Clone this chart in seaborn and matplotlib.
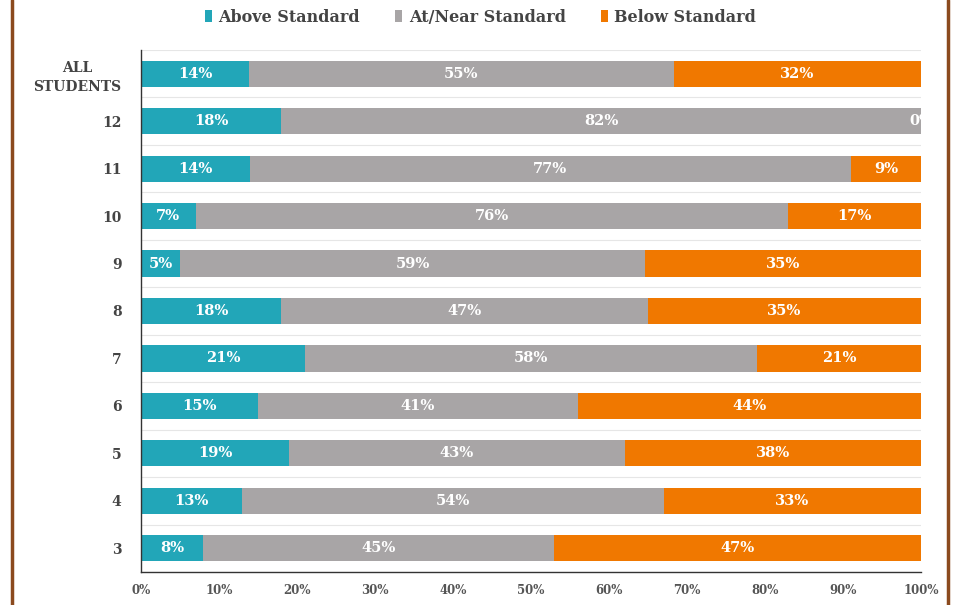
import matplotlib
matplotlib.use("Agg")
import matplotlib.pyplot as plt
import pandas as pd
import numpy as np
import seaborn as sns
from matplotlib.lines import Line2D
from matplotlib.patches import Patch

sns.set_theme(style="white")
plt.rcParams['font.family'] = ['DejaVu Serif']

# data (percent of students)
grades = ['ALL\nSTUDENTS', '12', '11', '10', '9', '8', '7', '6', '5', '4', '3']
above = [14, 18, 14, 7, 5, 18, 21, 15, 19, 13, 8]
near = [55, 82, 77, 76, 59, 47, 58, 41, 43, 54, 45]
below = [32, 0, 9, 17, 35, 35, 21, 44, 38, 33, 47]
series = ['Above Standard', 'At/Near Standard', 'Below Standard']
colors = ['#22a6b8', '#a8a5a6', '#f07800']

data = pd.DataFrame({'grade': grades, 'above': above, 'near': near, 'below': below})
# 100% stacked: rescale rounded labels so each bar fills the axis
tot = data[['above', 'near', 'below']].sum(axis=1)
data['s_above'] = data.above / tot * 100
data['cum_near'] = (data.above + data.near) / tot * 100
data['cum_below'] = 100.0

fig = plt.figure(figsize=(9.61, 6.05), dpi=100)
ax = fig.add_axes([141/961, 1-572/605, 780/961, 522/605])

# stacked bars: draw the running totals back to front
for col, c in zip(['cum_below', 'cum_near', 's_above'], colors[::-1]):
    sns.barplot(data=data, x=col, y='grade', order=grades, color=c,
                width=0.55, orient='h', ax=ax, saturation=1, edgecolor='none')

txt = dict(color='white', fontweight='bold', fontsize=10.5, ha='center',
           va='center', clip_on=True)
for i, row in data.iterrows():
    ax.text(row.s_above / 2, i, f"{row.above}%", **txt)
    ax.text((row.s_above + row.cum_near) / 2, i, f"{row.near}%", **txt)
    ax.text((row.cum_near + 100) / 2, i, f"{row.below}%", **txt)

ax.set_xlim(0, 100)
ax.set_ylim(len(grades) - 0.5, -0.5)
ax.set_xlabel('')
ax.set_ylabel('')
ax.set_xticks(np.arange(0, 101, 10))
ax.set_xticklabels([f"{v}%" for v in range(0, 101, 10)], fontsize=8.5,
                   fontweight='bold', color='#555555')
ax.set_yticks(range(len(grades)))
ax.set_yticklabels(grades, fontsize=10, fontweight='bold', color='#444444',
                   linespacing=1.4, multialignment='center')
ax.set_yticks(np.arange(-0.5, len(grades), 1), minor=True)
ax.tick_params(axis='y', which='major', length=0, pad=14)
ax.tick_params(axis='y', which='minor', length=8, direction='inout',
               color='#333333', width=1)
ax.tick_params(axis='x', length=10, direction='inout', color='#333333',
               width=1, pad=4)
ax.grid(axis='y', which='minor', color='#e6e6e6', linewidth=0.8)
ax.set_axisbelow(True)
for s in ['top', 'right']:
    ax.spines[s].set_visible(False)
for s in ['left', 'bottom']:
    ax.spines[s].set_color('#333333')
    ax.spines[s].set_linewidth(1)

handles = [Patch(facecolor=c, edgecolor='none') for c in colors]
fig.legend(handles, series, loc='center', bbox_to_anchor=(0.5, 1-17/605),
           ncol=3, frameon=False, handlelength=0.45, handleheight=0.8,
           handletextpad=0.4, columnspacing=2.2,
           prop={'weight': 'bold', 'size': 11.5})
for t in fig.legends[0].get_texts():
    t.set_color('#444444')

# brown frame at the sides
for xp in [12/961, 948/961]:
    fig.add_artist(Line2D([xp, xp], [0, 1], transform=fig.transFigure,
                          color='#8b4a1e', linewidth=2.5))

fig.savefig('out.png', dpi=100)
